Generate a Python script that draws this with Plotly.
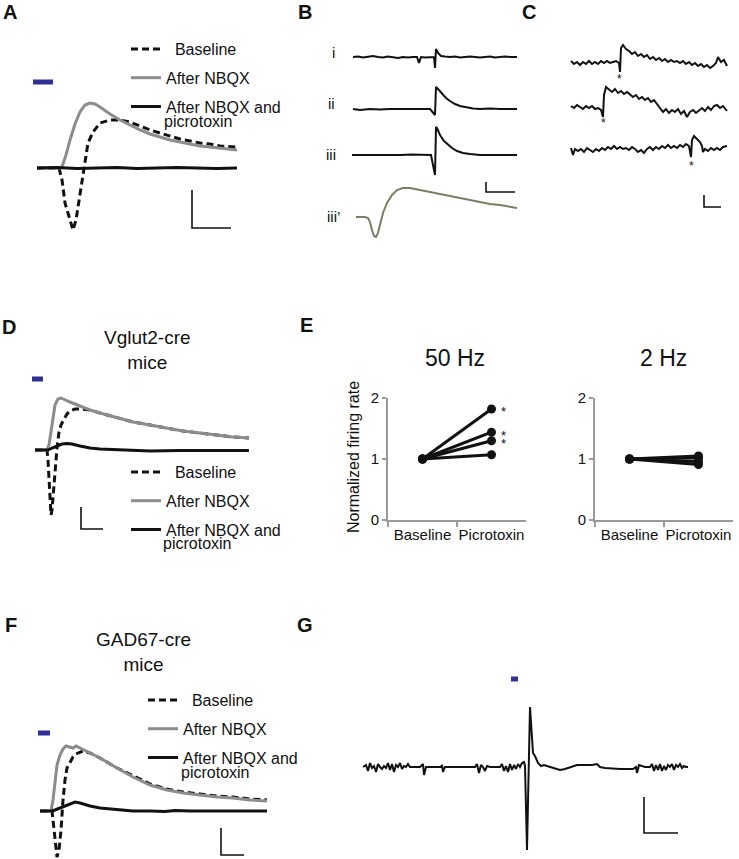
import plotly.graph_objects as go

W, H = 739, 859
FONT = "Liberation Sans, Arial, sans-serif"
BLACK = "#111111"
GRAY = "#8c8c8c"
OLIVE = "#7d7c64"
BLUE = "#2e3192"
AXGRAY = "#9a9a9a"

# ---------------- Panel A (time, amplitude; arbitrary units) ----------------
A_t_baseline = [0, 22, 25, 28, 31, 35, 36, 39, 42, 46, 48, 51, 56, 63, 73, 83, 93, 103, 113, 123, 133, 143, 153, 163, 173, 183, 200]
A_v_baseline = [0, 0, -12, -35, -45, -59, -62, -52, -32, -5, 8, 25, 36, 45, 48, 48, 46, 42, 38, 35, 32, 29, 27, 25, 24, 22, 21]
A_t_nbqx = [0, 23, 25, 29, 33, 38, 43, 48, 53, 58, 63, 73, 83, 93, 103, 113, 123, 133, 143, 153, 163, 173, 183, 200]
A_v_nbqx = [0, 0, 1, 13, 28, 44, 56, 63, 65, 64, 61, 54, 48, 43, 38, 34, 31, 28, 26, 24, 22, 21, 20, 18]
A_t_picro = [0, 20, 40, 60, 80, 100, 120, 140, 160, 180, 200]
A_v_picro = [0, 0.5, -0.5, 0, 0.5, -0.5, 0, 0.5, 0, -0.5, 0]
A_stim = [-4, 16]
A_stim_level = 86
A_scale = dict(t0=155, v0=-60, dt=39, dv=38)

# ---------------- Panel B ----------------
B_t_i = [0, 5, 10, 15, 20, 25, 30, 35, 40, 45, 50, 55, 60, 64, 66, 68, 72, 77, 81, 82, 83, 85, 88, 92, 97, 102, 107, 112, 117, 122, 127, 132, 137, 142, 147, 152, 157, 164]
B_v_i = [0, 0.5, -0.5, 0, 1, 0, -0.5, 0.5, 0, -1, 0, -0.5, 0, 0, -6, 0, -0.5, 0, 0, -11, 8, 4, 1, 0.5, 0, 0.5, -0.5, 0, 0.5, 0, -0.5, 0, 0.5, -0.5, 0, 0.5, 0, 0]
B_t_ii = [0, 7, 17, 27, 37, 47, 57, 67, 77, 82, 83, 85, 89, 93, 97, 102, 107, 113, 120, 127, 137, 147, 157, 164]
B_v_ii = [0, -1, 0, -0.5, 0, 0, 0.5, 0, 0, -6, 22, 20, 15, 11, 8, 5, 3, 1.5, 0.5, 0, 0.5, 0, 0, 0]
B_t_iii = [-1, 8, 18, 28, 38, 48, 58, 68, 78, 82, 83, 84, 87, 91, 95, 99, 104, 110, 117, 127, 137, 147, 157, 164]
B_v_iii = [0, 0, 0, 0, -0.5, 0, 0.5, 0, 0, -20, 28, 27, 20, 14, 10, 7, 4, 2, 1, 0, 0, 0, 0, 0]
B_t_iiip = [3, 12, 15, 17, 19, 21, 23, 25, 27, 30, 34, 39, 44, 50, 57, 67, 77, 87, 97, 107, 117, 127, 137, 147, 157, 164]
B_v_iiip = [0, 0, -1, -5, -13, -19, -20, -16, -8, 4, 14, 22, 27, 29, 29, 27, 25, 23, 21, 19, 17, 15, 13, 12, 10, 9]
B_labels = ["i", "ii", "iii", "iii\u2019"]
B_offsets = [0, -52, -98, -160]
B_scale = dict(t0=133, v0=-135, dt=29, dv=10)

# ---------------- Panel C ----------------
C_t_1 = [0, 3, 6, 9, 12, 15, 18, 21, 24, 27, 30, 33, 36, 39, 42, 45, 48, 49, 50, 52,
         55, 58, 61, 64, 67, 70, 73, 76, 79, 82, 85, 88, 91, 94, 97, 100, 103, 106, 109, 112,
         115, 118, 121, 124, 127, 130, 133, 136, 139, 142, 145, 147, 150, 153, 156]
C_v_1 = [2, -1, 1, -2, 1, -1, 2, -1, 1, -1, 2, 0, 2, 0, 1, 2, 0, -9, 15, 18,
         14, 12, 9, 11, 7, 9, 6, 8, 4, 6, 3, 5, 2, 4, 1, 3, 1, 2, 0, 2,
         -1, 1, -2, 0, -3, -1, -4, -2, -5, -3, 0, 6, 1, 3, -3]
C_t_2 = [0, 3, 6, 9, 12, 15, 18, 21, 24, 27, 30, 32, 33, 35,
         38, 41, 44, 47, 50, 53, 56, 59, 62, 65, 68, 71, 74, 77, 80, 83, 86, 89, 92, 95,
         98, 101, 104, 107, 110, 113, 116, 119, 122, 125, 128, 131, 134, 137, 140, 143, 146, 149, 152, 156]
C_v_2 = [1, -1, 2, 0, -2, 1, -1, 1, -2, -1, -3, -10, 12, 20,
         17, 15, 18, 14, 16, 13, 15, 12, 10, 12, 8, 10, 7, 9, 5, 7, 3, -1, -5, -2,
         -6, -3, -5, -2, -7, -4, -10, -5, -3, -6, -3, -1, -4, 0, -3, 1, 2, -1, 1, -4]
C_t_3 = [0, 2, 4, 7, 10, 13, 16, 19, 22, 25, 28, 31, 34, 37, 40, 43, 46, 49, 52, 55,
         58, 61, 64, 67, 70, 73, 76, 79, 82, 85, 88, 91, 94, 97, 100, 103, 106, 109, 112, 115,
         118, 120, 121, 123, 126, 129, 131, 132, 134, 137, 140, 143, 146, 149, 152, 156]
C_v_3 = [2, -5, 1, -1, 1, -2, 2, 0, -2, 1, -1, 2, 0, 3, 1, 4, 1, 3, 1, 2,
         0, 3, 1, -2, 0, -3, 1, 3, 0, 3, 1, 4, 2, 5, 2, 4, 2, 5, 3, 6,
         4, -7, 10, 14, 11, 8, 4, -2, 1, -1, 2, 0, 2, 0, 3, 4]
C_offsets = [0, -44, -87]
C_event_times = [48, 32, 120]
C_scale = dict(t0=133, v0=-144, dt=17, dv=12)

# ---------------- Panel D (Vglut2-cre) ----------------
D_t_baseline = [0, 12, 13, 14, 15, 16, 17, 18, 20, 22, 24, 26, 28, 30, 32, 35, 40, 45, 55, 65, 82, 98, 115, 132, 148, 165, 182, 198, 214]
D_v_baseline = [0, 0, -10, -30, -50, -65, -60, -47, -20, 2, 18, 25, 29, 32, 36, 39, 41, 41, 40, 37, 32, 28, 25, 22, 19, 17, 15, 13, 12]
D_t_nbqx = [0, 12, 14, 16, 18, 20, 23, 26, 35, 45, 55, 65, 82, 98, 115, 132, 148, 165, 182, 198, 214]
D_v_nbqx = [0, 0, 5, 20, 35, 45, 51, 52, 48, 44, 40, 37, 32, 28, 25, 22, 19, 17, 15, 13, 12]
D_t_picro = [0, 13, 17, 22, 27, 32, 37, 45, 55, 65, 85, 115, 145, 214]
D_v_picro = [0, 0, 2, 4, 6, 6.5, 6, 4, 2, 1, 0, -1, -0.5, -0.5]
D_stim = [-3, 8]
D_stim_level = 71
D_scale = dict(t0=46, v0=-79, dt=22, dv=22)

# ---------------- Panel E ----------------
E_categories = ["Baseline", "Picrotoxin"]
E50_baseline = [1.0, 1.0, 1.0, 1.0]
E50_picrotoxin = [1.82, 1.44, 1.30, 1.07]
E50_significant = [True, True, True, False]
E2_baseline = [1.0, 1.0, 1.0, 1.0]
E2_picrotoxin = [1.05, 1.02, 0.96, 0.91]
E_yticks = [0, 1, 2]

# ---------------- Panel F (GAD67-cre) ----------------
F_t_baseline = [0, 12, 13, 15, 17, 19, 21, 23, 25, 27, 30, 33, 36, 40, 43, 50, 60, 77, 93, 110, 127, 143, 160, 177, 193, 210, 227]
F_v_baseline = [0, 0, -9, -29, -46, -39, -19, 11, 31, 43, 49, 54, 57, 59, 60, 58, 53, 43, 35, 27, 22, 19, 17, 15, 14, 12, 11]
F_t_nbqx = [0, 11, 13, 15, 17, 20, 23, 26, 30, 33, 36, 38, 45, 60, 77, 93, 110, 127, 143, 160, 177, 193, 210, 227]
F_v_nbqx = [0, 0, 11, 31, 46, 56, 62, 65, 64, 63, 65, 64, 61, 53, 43, 34, 26, 21, 18, 16, 14, 13, 11, 10]
F_t_picro = [0, 12, 15, 20, 25, 30, 35, 40, 50, 60, 70, 80, 93, 110, 125, 135, 150, 227]
F_v_picro = [0, 0, 1, 3, 5, 7, 9, 8, 5, 3, 2, 1, 0, 0, -0.5, 0.5, 0, 0]
F_stim = [-2, 10]
F_stim_level = 78
F_scale = dict(t0=181, v0=-44, dt=23, dv=27)

# ---------------- Panel G ----------------
G_t = [0, 3, 5, 7, 9, 11, 13, 15, 17, 19, 21, 23, 25, 27, 29, 31, 33, 35, 37, 39,
       41, 43, 45, 47, 51, 57, 60, 61, 63, 67, 78, 79, 80, 82, 97, 112, 114, 116, 118, 120,
       122, 124, 127, 137, 139, 141, 143, 145, 147, 149, 151, 153, 155, 157, 159, 161, 162, 164, 167, 169,
       170, 172, 175, 178, 181, 184, 187, 192, 197, 202, 207, 214, 222, 229, 234, 237, 242, 257, 270, 273,
       274, 276, 282, 287, 289, 291, 293, 295, 297, 299, 301, 303, 305, 307, 309, 311, 313, 315, 317, 319,
       321, 323, 325]
G_v = [0, 2, -4, 4, -1, 1, -5, 3, 0, -2, 1, -1, 4, -3, 3, -5, 2, 0, 4, -2,
       1, 0, 3, 0, 0, 0, 3, -8, 0, 0, 0, 2, -5, 0, 0, 0, 3, -6, 2, 0,
       -4, 1, 0, 0, 3, -4, 1, -5, 3, -3, 2, -2, 3, 0, 4, 5, 1, -83, 60, 22,
       14, 11, 4, 1, 2, 1, 0, -1, -3, -2, 0, 2, 2, 2, 3, 0, -1, -2, -2, 0,
       -6, 2, 0, 0, 3, -4, 2, -3, 3, -4, 1, -3, 2, 0, 3, -3, 2, 0, 3, -1,
       1, 0, 0]
G_stim = [148, 155]
G_stim_level = 88
G_scale = dict(t0=281, v0=-66, dt=34, dv=36)

LEGEND_NAMES = ["\u00a0\u00a0Baseline", "After NBQX", "After NBQX and"]
LEGEND_WRAP = "picrotoxin"

fig = go.Figure()
layout_axes = {}


def place(n, left, right, top, bottom, ox, oy):
    """Axis pair n spanning a pixel box; ox/oy = pixel of data origin."""
    xa = "xaxis" if n == 1 else f"xaxis{n}"
    ya = "yaxis" if n == 1 else f"yaxis{n}"
    layout_axes[xa] = dict(domain=[left / W, right / W], range=[left - ox, right - ox],
                           visible=False, automargin=False, anchor=f"y{'' if n == 1 else n}")
    layout_axes[ya] = dict(domain=[1 - bottom / H, 1 - top / H], range=[oy - bottom, oy - top],
                           visible=False, automargin=False, anchor=f"x{'' if n == 1 else n}")
    return ("x" if n == 1 else f"x{n}"), ("y" if n == 1 else f"y{n}")


def line(xr, yr, t, v, color=BLACK, width=2, dash=None, name=None, legend=None, off=0):
    fig.add_trace(go.Scatter(
        x=t, y=[val + off for val in v], xaxis=xr, yaxis=yr, mode="lines",
        line=dict(color=color, width=width, dash=dash, shape="linear"),
        name=name, showlegend=legend is not None, legend=legend,
        legendgroup=(name if legend else None), hoverinfo="skip"))


def stim(xr, yr, span, level, width=5):
    fig.add_trace(go.Scatter(x=span, y=[level, level], xaxis=xr, yaxis=yr, mode="lines",
                             line=dict(color=BLUE, width=width), showlegend=False, hoverinfo="skip"))


def scalebar(xr, yr, sb, width=1.6):
    fig.add_trace(go.Scatter(x=[sb["t0"], sb["t0"], sb["t0"] + sb["dt"]],
                             y=[sb["v0"] + sb["dv"], sb["v0"], sb["v0"]],
                             xaxis=xr, yaxis=yr, mode="lines",
                             line=dict(color=BLACK, width=width), showlegend=False, hoverinfo="skip"))


DASH = "7px,4px"

# Panel A
xa, ya = place(1, 25, 245, 70, 240, 37, 168)
line(xa, ya, A_t_baseline, A_v_baseline, BLACK, 3, DASH, LEGEND_NAMES[0], "legend")
line(xa, ya, A_t_nbqx, A_v_nbqx, GRAY, 3, None, LEGEND_NAMES[1], "legend")
line(xa, ya, A_t_picro, A_v_picro, BLACK, 3, None, LEGEND_NAMES[2], "legend")
stim(xa, ya, A_stim, A_stim_level, 5)
scalebar(xa, ya, A_scale)

# Panel B
xb, yb = place(2, 320, 520, 40, 245, 353, 57)
line(xb, yb, B_t_i, B_v_i, BLACK, 2, off=B_offsets[0])
line(xb, yb, B_t_ii, B_v_ii, BLACK, 2, off=B_offsets[1])
line(xb, yb, B_t_iii, B_v_iii, BLACK, 2, off=B_offsets[2])
line(xb, yb, B_t_iiip, B_v_iiip, OLIVE, 2, off=B_offsets[3])
scalebar(xb, yb, B_scale)

# Panel C
xc, yc = place(3, 560, 735, 35, 215, 571, 63)
for t, v, off in zip([C_t_1, C_t_2, C_t_3], [C_v_1, C_v_2, C_v_3], C_offsets):
    line(xc, yc, t, v, BLACK, 2, off=off)
scalebar(xc, yc, C_scale)

# Panel D
xd, yd = place(4, 25, 255, 370, 535, 35, 450)
line(xd, yd, D_t_baseline, D_v_baseline, BLACK, 3, DASH, LEGEND_NAMES[0], "legend2")
line(xd, yd, D_t_nbqx, D_v_nbqx, GRAY, 3, None, LEGEND_NAMES[1], "legend2")
line(xd, yd, D_t_picro, D_v_picro, BLACK, 3, None, LEGEND_NAMES[2], "legend2")
stim(xd, yd, D_stim, D_stim_level, 5)
scalebar(xd, yd, D_scale)

# Panel F
xf, yf = place(5, 25, 275, 725, 859, 40, 811)
line(xf, yf, F_t_baseline, F_v_baseline, BLACK, 3, DASH, LEGEND_NAMES[0], "legend3")
line(xf, yf, F_t_nbqx, F_v_nbqx, GRAY, 3, None, LEGEND_NAMES[1], "legend3")
line(xf, yf, F_t_picro, F_v_picro, BLACK, 3, None, LEGEND_NAMES[2], "legend3")
stim(xf, yf, F_stim, F_stim_level, 5)
scalebar(xf, yf, F_scale)

# Panel G
xg, yg = place(6, 350, 700, 670, 855, 363, 767)
line(xg, yg, G_t, G_v, BLACK, 2)
stim(xg, yg, G_stim, G_stim_level, 5)
scalebar(xg, yg, G_scale)


# Panel E axes
def e_axes(n, left, right):
    layout_axes[f"xaxis{n}"] = dict(
        domain=[left / W, right / W], anchor=f"y{n}", type="category",
        categoryorder="array", categoryarray=E_categories, range=[-0.5, 1.5],
        tickson="boundaries", ticks="outside", ticklen=5, tickwidth=2, tickcolor=AXGRAY,
        showline=True, linecolor=AXGRAY, linewidth=2, showgrid=False, zeroline=False,
        tickangle=0, automargin=False,
        tickfont=dict(size=15, family=FONT, color=BLACK))
    layout_axes[f"yaxis{n}"] = dict(
        domain=[1 - 520 / H, 1 - 398 / H], anchor=f"x{n}", range=[0, 2],
        tickvals=E_yticks, ticks="outside", ticklen=4, tickwidth=2, tickcolor=AXGRAY,
        showline=True, linecolor=AXGRAY, linewidth=2, showgrid=False, zeroline=False,
        automargin=False,
        tickfont=dict(size=15, family=FONT, color=BLACK))


e_axes(7, 388, 526)
e_axes(8, 595, 733)
for b, p in zip(E50_baseline, E50_picrotoxin):
    fig.add_trace(go.Scatter(x=E_categories, y=[b, p], xaxis="x7", yaxis="y7", mode="lines+markers",
                             line=dict(color=BLACK, width=3), marker=dict(size=9, color=BLACK),
                             showlegend=False, cliponaxis=False, hoverinfo="skip"))
for b, p in zip(E2_baseline, E2_picrotoxin):
    fig.add_trace(go.Scatter(x=E_categories, y=[b, p], xaxis="x8", yaxis="y8", mode="lines+markers",
                             line=dict(color=BLACK, width=3), marker=dict(size=9, color=BLACK),
                             showlegend=False, cliponaxis=False, hoverinfo="skip"))

ann = []


def text(px, py, s, size, bold=False, angle=0, xanchor="center"):
    ann.append(dict(x=px / W, y=1 - py / H, xref="paper", yref="paper", text=f"<b>{s}</b>" if bold else s,
                    showarrow=False, xanchor=xanchor, yanchor="middle", textangle=angle,
                    font=dict(size=size, family=FONT, color=BLACK)))


for s, (px, py) in zip("ABCDEFG", [(10, 12), (305, 12), (529, 12), (9, 327), (306, 325), (11, 625), (305, 625)]):
    text(px, py, s, 20, bold=True)

for s, (px, py) in zip(B_labels, [(333, 53), (331, 104), (331, 155), (333, 217)]):
    text(px, py, s, 15)

text(147, 350, "Vglut2-cre<br>mice", 19)
text(143, 652, "GAD67-cre<br>mice", 19)
text(455, 358, "50 Hz", 23)
text(663, 358, "2 Hz", 23)
text(353, 457, "Normalized firing rate", 16, angle=-90)

# wrapped second line of the third legend entry
for px, py in [(162, 121), (161, 543), (179, 772)]:
    text(px, py, LEGEND_WRAP, 16, xanchor="left")

for t, off in zip(C_event_times, C_offsets):
    ann.append(dict(x=t, y=off - 14, xref=xc, yref=yc, text="*", showarrow=False,
                    font=dict(size=12, family=FONT, color=BLACK), yshift=-2))

for p, sig in zip(E50_picrotoxin, E50_significant):
    if sig:
        ann.append(dict(x=1, y=p, xref="x7", yref="y7", text="*", showarrow=False, xshift=12, yshift=-3,
                        font=dict(size=13, family=FONT, color=BLACK)))

legend_style = dict(bgcolor="rgba(0,0,0,0)", font=dict(size=16, family=FONT, color=BLACK),
                    itemwidth=30, tracegroupgap=5, valign="middle", xanchor="left", yanchor="top",
                    traceorder="grouped", xref="paper", yref="paper")
fig.update_layout(
    width=W, height=H, autosize=False, margin=dict(l=0, r=0, t=0, b=0, pad=0, autoexpand=False),
    paper_bgcolor="white", plot_bgcolor="rgba(0,0,0,0)",
    font=dict(family=FONT, color=BLACK),
    legend=dict(x=126 / W, y=1 - 32 / H, **legend_style),
    legend2=dict(x=126 / W, y=1 - 455 / H, **legend_style),
    legend3=dict(x=143 / W, y=1 - 683 / H, **legend_style),
    annotations=ann,
    **layout_axes,
)

fig.write_html("out.html", config={"displayModeBar": False, "staticPlot": True},
               post_script="document.body.style.margin='0';document.body.style.overflow='hidden';")
